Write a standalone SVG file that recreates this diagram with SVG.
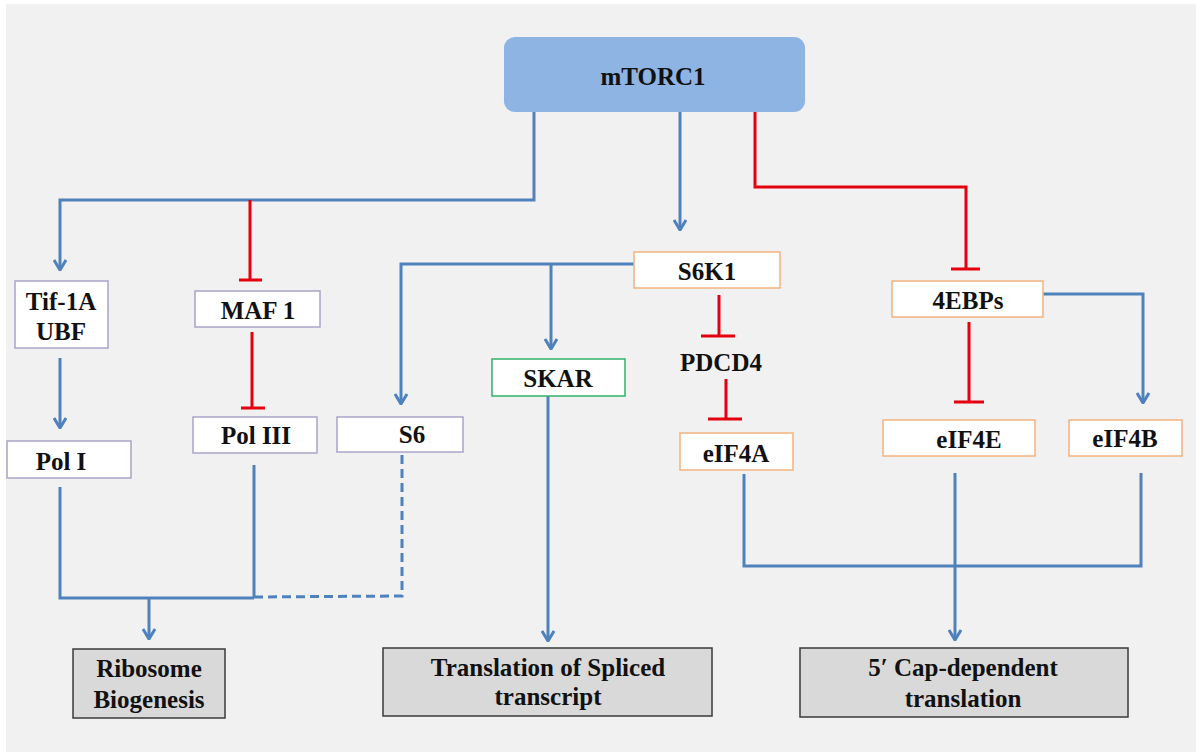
<svg xmlns="http://www.w3.org/2000/svg" width="1196" height="753" viewBox="0 0 1196 753">
<defs>
<style>
.bg{fill:#f1f1f1}
.box{fill:#ffffff;stroke-width:1.5}
.pu{stroke:#aaa3c9}
.or{stroke:#f2b27f}
.gr{stroke:#2fb36b}
.out{fill:#d9d9d9;stroke:#3a3a3a;stroke-width:1.5}
.t{font-family:"Liberation Serif","Times New Roman",serif;font-weight:bold;font-size:25px;fill:#111;text-anchor:middle}
.b{fill:none;stroke:#4f81bd;stroke-width:3}
.r{fill:none;stroke:#e3000f;stroke-width:3}
.d{stroke-dasharray:9 5}
</style>
<marker id="arr" viewBox="0 0 12 14" refX="11" refY="7" markerWidth="12" markerHeight="14" markerUnits="userSpaceOnUse" orient="auto">
<path d="M1,1 L11,7 L1,13" fill="none" stroke="#4f81bd" stroke-width="3"/>
</marker>
</defs>
<rect x="0" y="0" width="1196" height="753" fill="#ffffff"/>
<rect class="bg" x="6" y="4" width="1190" height="748"/>

<g id="connectors">
<!-- mTORC1 left branch -->
<polyline class="b" points="534,112 534,200 60,200 60,270" marker-end="url(#arr)"/>
<line class="r" x1="250" y1="200" x2="250" y2="280"/>
<line class="r" x1="239" y1="280" x2="262" y2="280"/>
<!-- center to S6K1 -->
<line class="b" x1="680" y1="112" x2="680" y2="230" marker-end="url(#arr)"/>
<!-- red to 4EBPs -->
<polyline class="r" points="755,112 755,187 966,187 966,269"/>
<line class="r" x1="951" y1="269" x2="980" y2="269"/>
<!-- S6K1 left branches -->
<polyline class="b" points="634,264 401,264 401,404" marker-end="url(#arr)"/>
<line class="b" x1="551" y1="264" x2="551" y2="349" marker-end="url(#arr)"/>
<!-- S6K1 -| PDCD4 -| eIF4A -->
<line class="r" x1="719" y1="295" x2="719" y2="336"/>
<line class="r" x1="701" y1="336" x2="735" y2="336"/>
<line class="r" x1="726" y1="379" x2="726" y2="419"/>
<line class="r" x1="708" y1="419" x2="742" y2="419"/>
<!-- 4EBPs -->
<line class="r" x1="969" y1="322" x2="969" y2="402"/>
<line class="r" x1="954" y1="402" x2="984" y2="402"/>
<polyline class="b" points="1043,294 1143,294 1143,403" marker-end="url(#arr)"/>
<!-- Tif -> Pol I -->
<line class="b" x1="60" y1="358" x2="60" y2="428" marker-end="url(#arr)"/>
<!-- MAF1 -| Pol III -->
<line class="r" x1="252" y1="332" x2="252" y2="408"/>
<line class="r" x1="241" y1="408" x2="265" y2="408"/>
<!-- Ribosome biogenesis -->
<polyline class="b" points="60,487 60,598 254,598"/>
<line class="b" x1="254" y1="465" x2="254" y2="598"/>
<polyline class="b d" points="254,597 402,596 402,455"/>
<line class="b" x1="149" y1="598" x2="149" y2="639" marker-end="url(#arr)"/>
<!-- SKAR -> translation -->
<line class="b" x1="548" y1="396" x2="548" y2="641" marker-end="url(#arr)"/>
<!-- eIF4 -> cap-dependent -->
<polyline class="b" points="744,474 744,566 1141,566 1141,473"/>
<line class="b" x1="955" y1="473" x2="955" y2="640" marker-end="url(#arr)"/>
</g>

<g id="mTORC1">
<rect x="504" y="37" width="301" height="75" rx="11" fill="#8eb4e3"/>
<text class="t" x="653" y="85">mTORC1</text>
</g>
<g id="Tif1A_UBF">
<rect class="box pu" x="15" y="281" width="93" height="67"/>
<text class="t" x="61" y="310">Tif-1A</text>
<text class="t" x="61" y="340">UBF</text>
</g>
<g id="MAF1">
<rect class="box pu" x="195" y="291" width="125" height="36"/>
<text class="t" x="258" y="319">MAF 1</text>
</g>
<g id="S6K1">
<rect class="box or" x="634" y="252" width="146" height="36"/>
<text class="t" x="707" y="280">S6K1</text>
</g>
<g id="4EBPs">
<rect class="box or" x="892" y="281" width="151" height="36"/>
<text class="t" x="968" y="309">4EBPs</text>
</g>
<g id="SKAR">
<rect class="box gr" x="492" y="359" width="133" height="37"/>
<text class="t" x="558" y="387">SKAR</text>
</g>
<g id="PDCD4">
<text class="t" x="721" y="371">PDCD4</text>
</g>
<g id="PolI">
<rect class="box pu" x="7" y="441" width="124" height="37"/>
<text class="t" x="61" y="470">Pol I</text>
</g>
<g id="PolIII">
<rect class="box pu" x="193" y="417" width="124" height="36"/>
<text class="t" x="256" y="444">Pol III</text>
</g>
<g id="S6">
<rect class="box pu" x="337" y="417" width="126" height="35"/>
<text class="t" x="412" y="443">S6</text>
</g>
<g id="eIF4A">
<rect class="box or" x="680" y="433" width="113" height="37"/>
<text class="t" x="736" y="462">eIF4A</text>
</g>
<g id="eIF4E">
<rect class="box or" x="883" y="420" width="152" height="36"/>
<text class="t" x="969" y="448">eIF4E</text>
</g>
<g id="eIF4B">
<rect class="box or" x="1069" y="420" width="113" height="36"/>
<text class="t" x="1125" y="447">eIF4B</text>
</g>
<g id="RibosomeBiogenesis">
<rect class="out" x="73" y="649" width="152" height="69"/>
<text class="t" x="149" y="677">Ribosome</text>
<text class="t" x="149" y="708">Biogenesis</text>
</g>
<g id="TranslationSpliced">
<rect class="out" x="383" y="648" width="329" height="68"/>
<text class="t" x="548" y="676">Translation of Spliced</text>
<text class="t" x="548" y="705">transcript</text>
</g>
<g id="CapDependent">
<rect class="out" x="800" y="648" width="328" height="69"/>
<text class="t" x="963" y="676">5′ Cap-dependent</text>
<text class="t" x="963" y="707">translation</text>
</g>
</svg>
